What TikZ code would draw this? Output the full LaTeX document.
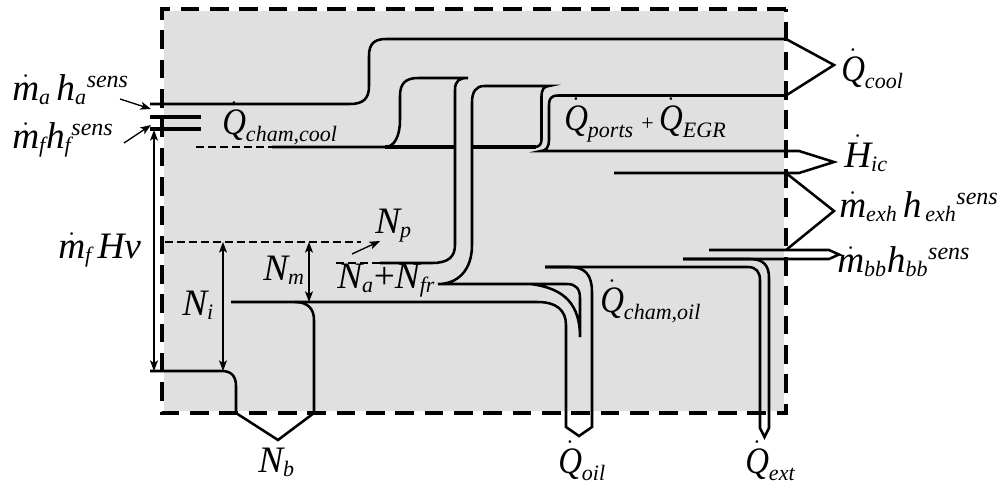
\documentclass[tikz,border=0pt]{standalone}
\usepackage{amsmath}
\usepackage{graphicx}
\usepackage{fontspec}
\setmainfont{Liberation Serif}
\usepackage{tikz}
\usetikzlibrary{arrows.meta}
\DeclareMathSizes{28}{28}{16.5}{13}
\newcommand{\iv}[1]{\textit{#1}}
\newcommand{\dQ}{\dot{\text{\scalebox{0.88}[1]{\itshape Q}}}}
\newcommand{\dm}{\dot{\iv{m}}}
\newcommand{\sens}{\text{\fontsize{18}{20}\selectfont\itshape sens}}
\newcommand{\hs}[1]{\iv{h}_{\iv{#1}}{}^{\sens}}
\definecolor{boxgray}{HTML}{E0E0E0}
\tikzset{
	flow/.style={line width=1.9pt},
	flowstraight/.style={line width=2.3pt},
	dashflow/.style={line width=1.5pt, dash pattern=on 6pt off 3pt},
	dim/.style={line width=1pt, >={Stealth[length=8pt, width=6pt, inset=2pt]}},
	lab/.style={anchor=base west, inner sep=0pt, font=\fontsize{28}{32}\selectfont},
}
\begin{document}
\begin{tikzpicture}[x=0.75pt, y=-0.75pt]
	\useasboundingbox (0,0) rectangle (1008,494);
	\fill[boxgray] (162,9) rectangle (786,413);
	\draw[white, line width=2.8pt] (162,9) rectangle (786,413);
	\draw[line width=2.8pt, dash pattern=on 14pt off 8pt] (786,9) -- (162,9) -- (162,413) -- (786,413) -- cycle;
	% cooling
	\coordinate (cooltop) at (786,39);
	\coordinate (coolbot) at (786,95.5);
	\coordinate (coolend) at (834,65);
	\draw[flow] (150,104) -- (350,104) .. controls (364,104) and (369,98) .. (369,86) -- (369,56) .. controls (369,44) and (374,39) .. (386,39) -- (cooltop) -- (coolend) -- (coolbot) -- (558,95.5) .. controls (551,95.5) and (549,99) .. (549,105) -- (549,140) .. controls (549,147) and (546,151) .. (541,151) -- (786,151) -- (799,151) -- (834,162) -- (799,173) -- (614,173);
	% exhaust
	\coordinate (exhtop) at (786,173);
	\coordinate (exhbot) at (786,250);
	\coordinate (exhend) at (834,211);
	\draw[flow] (exhtop) -- (exhend) -- (exhbot);
	\draw[flow] (709,250) -- (829,250) -- (839,254.5) -- (829,259) -- (683,259);
	\draw[flow] (683,259) -- (750,259) .. controls (764,259) and (769,266) .. (769,278) -- (769,428) -- (764.5,437) -- (760,428) -- (760,280) .. controls (760,272) and (756,267) .. (748,267) -- (545,267);
	% oil
	\draw[flow] (545,267) -- (570,267) .. controls (585,267) and (592,275) .. (592,292) -- (592,427) -- (579,436) -- (566,427) -- (566,325) .. controls (566,310) and (556,302) .. (538,302) -- (231,302);
	% intake
	\draw[flowstraight] (150,117) -- (201,117);
	\draw[flowstraight] (150,129) -- (201,129);
	\draw[dashflow] (196,147) -- (272,147);
	\draw[flow] (272,147) -- (385,147) .. controls (395,147) and (400,135) .. (400,120) -- (400,96) .. controls (400,84) and (405,78) .. (418,78) -- (468,78) .. controls (460,78) and (455,80) .. (455,90) -- (455,245) .. controls (455,257) and (448,263) .. (432,263) -- (380,263);
	\draw[dashflow] (380,263) -- (332,263);
	\draw[flowstraight] (455,147) -- (385,147);
	\draw[flowstraight] (472,147) -- (536,147);
	\draw[flow] (535,147) .. controls (539,147) and (541.5,144) .. (541.5,140) -- (541.5,96) .. controls (541.5,90) and (544,86) .. (549,86) -- (484,86) .. controls (476,86) and (472,92) .. (472,102) -- (472,245) .. controls (472,270) and (458,284) .. (438,284) -- (567,284) .. controls (576,284) and (580,289) .. (580,298) -- (580,337) .. controls (580,305) and (565,288) .. (530,284);
	% brake
	\draw[flow] (150,371) -- (222,371) .. controls (231,371) and (236,376) .. (236,386) -- (236,413) -- (278,440) -- (314,413) -- (314,320) .. controls (314,309) and (308,302) .. (295,302);
	% indicated work
	\draw[dashflow] (165,242) -- (361,242);
	\coordinate (airtop) at (154,130);
	\coordinate (airbot) at (154,371);
	\coordinate (nitop) at (223,242);
	\coordinate (nibot) at (223,371);
	\coordinate (nmtop) at (309,242);
	\coordinate (nmbot) at (309,302);
	\coordinate (npfrom) at (352,254);
	\coordinate (npto) at (380,241);
	\coordinate (mafrom) at (120,99);
	\coordinate (mato) at (151,109);
	\coordinate (mffrom) at (124,143);
	\coordinate (mfto) at (151,125);
	\draw[dim, <->] (airtop) -- (airbot);
	\draw[dim, <->] (nitop) -- (nibot);
	\draw[dim, <->] (nmtop) -- (nmbot);
	\draw[dim, ->] (npfrom) -- (npto);
	\draw[dim, ->] (mafrom) -- (mato);
	\draw[dim, ->] (mffrom) -- (mfto);
	% labels
	\node[lab] (ma) at (12,100) {$\dm_{\iv{a}}\,\hs{a}$};
	\node[lab] (mf) at (12,148) {$\dm_{\iv{f}}\hs{f}$};
	\node[lab] (qchamcool) at (222,134) {$\dQ_{\iv{cham,cool}}$};
	\node[lab] (mfhv) at (58,258) {$\dm_{\iv{f}}\,\iv{Hv}$};
	\node[lab] (np) at (375,233) {$\iv{N}_{\iv{p}}$};
	\node[lab] (nm) at (263,280) {$\iv{N}_{\iv{m}}$};
	\node[lab] (ni) at (182,315) {$\iv{N}_{\iv{i}}$};
	\node[lab] (nafr) at (337,288) {$\iv{N}_{\iv{a}}$+$\iv{N}_{\iv{fr}}$};
	\node[lab] (nb) at (258,472) {$\iv{N}_{\iv{b}}$};
	\node[lab] (qoil) at (558,473) {$\dQ_{\iv{oil}}$};
	\node[lab] (qext) at (745,473) {$\dQ_{\iv{ext}}$};
	\node[lab] (qchamoil) at (600,312) {$\dQ_{\iv{cham,oil}}$};
	\node[lab] (mbb) at (837,272) {$\dm_{\iv{bb}}\hs{bb}$};
	\node[lab] (qcool) at (841,81) {$\dQ_{\iv{cool}}$};
	\node[lab] (qports) at (564,130) {$\dQ_{\iv{ports}}\mkern4mu{\scriptstyle\text{+}}\mkern3mu\dQ_{\iv{EGR}}$};
	\node[lab] (hic) at (844,167) {$\dot{\iv{H}}_{\iv{ic}}$};
	\node[lab] (mexh) at (839,217) {$\dm_{\iv{exh}}\mkern3mu\hs{\,exh}$};
\end{tikzpicture}
\end{document}
